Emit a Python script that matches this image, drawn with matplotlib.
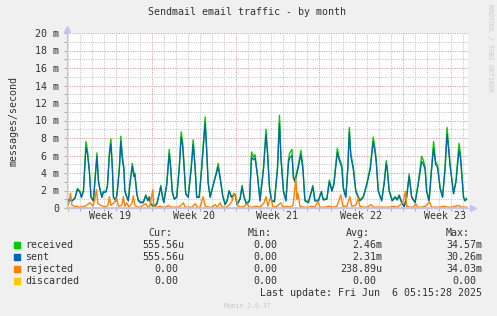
import matplotlib
matplotlib.use('Agg')
import matplotlib.pyplot as plt
from matplotlib.patches import Rectangle
from matplotlib.ticker import FixedLocator, MultipleLocator, FuncFormatter

# hours since the start of the graph, values in milli-messages/second
hours = [0, 4, 10, 16, 21, 26, 29, 33, 36, 38,
         41, 45, 48, 53, 58, 60, 63, 66, 70, 73,
         78, 81, 85, 88, 91, 93, 98, 101, 105, 108,
         111, 114, 116, 120, 123, 126, 131, 134, 136, 140,
         143, 148, 153, 158, 162, 165, 168, 173, 180, 185,
         188, 191, 194, 200, 205, 208, 211, 215, 220, 225,
         229, 232, 235, 238, 243, 249, 253, 257, 260, 265,
         270, 277, 280, 283, 287, 293, 299, 303, 308, 312,
         317, 321, 325, 330, 333, 337, 341, 347, 351, 355,
         360, 366, 370, 374, 377, 382, 387, 394, 399, 402,
         406, 410, 416, 422, 426, 429, 434, 439, 444, 446,
         451, 454, 457, 463, 469, 473, 477, 484, 493, 497,
         504, 510, 514, 521, 526, 531, 535, 542, 546, 551,
         554, 559, 563, 566, 569, 574, 579, 587, 594, 601,
         608, 614, 618, 620, 624, 631, 636, 640, 642, 646,
         652, 658, 662, 666, 671, 676, 681, 686, 691, 698,
         704, 711, 714, 718, 721, 726, 731, 735, 739, 743,
         748, 753, 758, 762, 766, 768, 775, 780, 786, 789,
         793, 795, 798, 801]

received = [0.7, 1.0, 0.8, 1.2, 2.25, 1.9, 1.3, 2.0, 5.3, 7.6,
            6.6, 4.3, 1.3, 0.9, 4.7, 6.3, 3.2, 2.25, 1.3, 1.9,
            1.9, 2.6, 6.4, 7.9, 4.7, 1.3, 0.9, 2.0, 4.7, 8.2,
            5.9, 4.7, 2.0, 1.3, 0.9, 2.8, 5.1, 3.8, 4.0, 1.7,
            0.9, 0.7, 0.7, 1.5, 0.9, 1.3, 0.5, 0.2, 0.5, 1.7,
            2.6, 1.5, 0.7, 2.8, 6.7, 4.7, 1.9, 1.1, 1.3, 4.7,
            8.7, 7.4, 4.7, 1.7, 1.3, 4.7, 7.8, 4.7, 1.3, 1.3,
            4.7, 10.4, 6.9, 3.0, 1.3, 2.7, 4.0, 5.1, 3.2, 1.5,
            0.4, 0.9, 2.0, 1.3, 1.5, 1.6, 0.4, 1.1, 2.6, 1.3,
            0.5, 0.9, 6.4, 5.8, 6.1, 3.8, 0.9, 4.7, 9.0, 6.6,
            2.4, 0.9, 0.8, 4.7, 10.6, 5.9, 2.0, 0.9, 5.5, 6.2,
            6.7, 3.6, 3.2, 4.7, 6.6, 4.7, 0.9, 0.7, 2.6, 0.9,
            0.9, 1.9, 1.0, 1.1, 3.2, 2.0, 2.8, 6.8, 5.7, 4.9,
            2.4, 1.3, 4.7, 9.2, 6.25, 4.7, 2.0, 0.9, 1.3, 2.8,
            4.7, 8.1, 6.6, 5.5, 2.0, 0.9, 3.0, 5.4, 4.7, 2.0,
            0.9, 1.3, 1.0, 1.5, 0.7, 0.15, 1.3, 3.9, 1.3, 0.7,
            2.8, 5.9, 5.5, 4.7, 2.0, 0.9, 4.7, 7.6, 5.3, 4.9,
            2.4, 1.3, 4.7, 9.2, 6.6, 5.1, 1.7, 3.2, 7.4, 6.1,
            2.8, 1.3, 0.9, 1.1]

sent = [0.6, 0.9, 0.8, 1.1, 2.1, 1.8, 1.2, 1.9, 4.9, 6.9,
        6.2, 4.0, 1.2, 0.8, 4.4, 5.9, 3.0, 2.1, 1.2, 1.8,
        1.8, 2.4, 6.0, 7.3, 4.4, 1.2, 0.8, 1.9, 4.4, 7.6,
        5.5, 4.4, 1.9, 1.2, 0.8, 2.6, 4.8, 3.6, 3.8, 1.6,
        0.8, 0.6, 0.6, 1.4, 0.8, 1.2, 0.4, 0.2, 0.4, 1.6,
        2.4, 1.4, 0.6, 2.6, 6.2, 4.4, 1.8, 1.0, 1.2, 4.4,
        8.1, 7.0, 4.4, 1.6, 1.2, 4.4, 7.3, 4.4, 1.2, 1.2,
        4.4, 9.7, 6.5, 2.8, 1.2, 2.5, 3.8, 4.7, 3.0, 1.4,
        0.4, 0.8, 1.9, 1.2, 1.4, 1.5, 0.4, 1.0, 2.4, 1.2,
        0.4, 0.8, 5.8, 5.5, 5.7, 3.6, 0.8, 4.4, 8.4, 6.2,
        2.2, 0.8, 0.7, 4.4, 9.7, 5.5, 1.9, 0.8, 5.1, 5.7,
        6.0, 3.4, 3.0, 4.4, 6.1, 4.4, 0.8, 0.6, 2.4, 0.8,
        0.8, 1.8, 0.9, 1.0, 3.0, 1.9, 2.6, 6.3, 5.4, 4.6,
        2.2, 1.2, 4.4, 8.7, 5.9, 4.4, 1.9, 0.8, 1.2, 2.6,
        4.4, 7.6, 6.2, 5.2, 1.9, 0.8, 2.8, 5.0, 4.4, 1.9,
        0.8, 1.2, 0.9, 1.4, 0.6, 0.15, 1.2, 3.6, 1.2, 0.6,
        2.6, 5.3, 5.1, 4.4, 1.9, 0.8, 4.4, 6.8, 5.0, 4.6,
        2.2, 1.2, 4.4, 8.4, 6.1, 4.8, 1.6, 3.0, 6.6, 5.6,
        2.6, 1.2, 0.8, 1.0]

rej_hours = [0, 4, 7, 10, 16, 26, 36, 46, 52, 56,
             59, 62, 68, 76, 82, 85, 88, 94, 100, 103,
             110, 113, 116, 120, 124, 130, 133, 136, 142, 148,
             152, 158, 162, 166, 172, 174, 180, 186, 192, 198,
             203, 208, 217, 223, 227, 233, 237, 243, 251, 257,
             261, 267, 273, 277, 283, 291, 297, 301, 307, 311,
             319, 325, 331, 335, 339, 343, 349, 355, 361, 365,
             371, 379, 387, 395, 399, 403, 407, 410, 413, 421,
             429, 433, 441, 447, 453, 459, 461, 463, 467, 475,
             483, 491, 497, 503, 507, 517, 525, 533, 541, 549,
             553, 561, 567, 571, 579, 584, 587, 595, 603, 609,
             615, 623, 631, 639, 647, 655, 661, 667, 673, 679,
             681, 687, 695, 699, 703, 711, 719, 727, 731, 739,
             747, 755, 763, 771, 779, 785, 791, 801]

rejected = [0.3, 0.5, 1.7, 0.3, 0.2, 0.1, 0.2, 0.6, 0.2, 1.0,
            2.1, 0.5, 0.3, 0.1, 0.3, 1.3, 0.3, 0.6, 1.1, 0.2,
            0.3, 1.3, 0.2, 0.6, 0.1, 0.5, 1.4, 0.3, 0.1, 0.1,
            0.3, 0.5, 0.1, 0.2, 2.1, 0.2, 0.1, 0.2, 0.1, 0.1,
            0.3, 0.1, 0.1, 0.1, 0.2, 0.6, 0.1, 0.1, 0.1, 0.5,
            0.1, 0.1, 1.3, 0.2, 0.1, 0.1, 0.4, 0.1, 0.6, 0.1,
            0.1, 0.3, 0.8, 1.7, 1.1, 0.2, 0.1, 0.2, 0.5, 0.1,
            0.1, 0.2, 0.1, 0.6, 1.3, 0.2, 1.1, 0.9, 0.1, 0.2,
            0.6, 0.1, 0.2, 0.1, 0.3, 3.4, 1.0, 1.7, 0.2, 0.1,
            0.1, 0.2, 0.1, 0.7, 0.1, 0.1, 0.2, 0.1, 0.2, 1.5,
            0.2, 0.2, 1.3, 0.2, 0.3, 1.1, 0.2, 0.1, 0.1, 0.4,
            0.1, 0.1, 0.1, 0.1, 0.1, 0.2, 0.1, 0.3, 0.6, 1.9,
            0.2, 0.1, 0.1, 0.5, 0.1, 0.1, 0.2, 0.7, 0.1, 0.1,
            0.1, 0.2, 0.1, 0.1, 0.2, 0.3, 0.1, 0.1]

disc_hours = [0, 801]
discarded = [0.0, 0.0]

week_starts = [170, 338, 506, 674]
week_names = ['Week 19', 'Week 20', 'Week 21', 'Week 22', 'Week 23']

names = ['received', 'sent', 'rejected', 'discarded']
colors = ['#00CC00', '#0066B3', '#FF8000', '#FFCC00']
cur = ['555.56u', '555.56u', '0.00', '0.00']
mins = ['0.00', '0.00', '0.00', '0.00']
avg = ['2.46m', '2.31m', '238.89u', '0.00']
maxs = ['34.57m', '30.26m', '34.03m', '0.00']

plt.rcParams['font.family'] = 'DejaVu Sans Mono'
W, H = 497, 316
FS = 7.2
TXT = '#333333'

fig = plt.figure(figsize=(W / 100, H / 100), dpi=100, facecolor='#F0F0F0')
ax = fig.add_axes([67 / W, 1 - 208 / H, 401 / W, 175 / H])
ax.set_facecolor('white')

ax.plot(hours, received, color=colors[0], lw=1.0)
ax.plot(hours, sent, color=colors[1], lw=0.9)
ax.plot(rej_hours, rejected, color=colors[2], lw=1.0)
ax.plot(disc_hours, discarded, color=colors[3], lw=1.2, clip_on=False)

ax.set_xlim(0, 804)
ax.set_ylim(0, 20)

ax.xaxis.set_major_locator(FixedLocator(week_starts))
ax.xaxis.set_minor_locator(FixedLocator(list(range(2, 804, 24))))
ax.yaxis.set_major_locator(MultipleLocator(2))
ax.yaxis.set_minor_locator(MultipleLocator(1))
ax.yaxis.set_major_formatter(FuncFormatter(lambda v, p: '0' if v == 0 else '%d m' % v))

ax.grid(which='minor', color='#C8C8C8', linestyle=(0, (1.2, 1.2)), lw=0.7)
ax.grid(which='major', color='#E4A0A0', linestyle=(0, (1.2, 1.2)), lw=0.7)
ax.set_axisbelow(True)

ax.tick_params(which='both', direction='out', length=2, width=0.6, color='#A0A0A0',
               labelsize=FS, labelcolor=TXT, pad=3.5)
ax.tick_params(axis='x', labelbottom=False)

for s in ['top', 'right']:
    ax.spines[s].set_visible(False)
for s in ['left', 'bottom']:
    ax.spines[s].set_color('#C4C4F4')
    ax.spines[s].set_linewidth(0.9)

# axis arrows
ax.plot(0, 1.025, marker='^', ms=4, color='#C4C4F4', transform=ax.transAxes, clip_on=False)
ax.plot(1.012, 0, marker='>', ms=4, color='#C4C4F4', transform=ax.transAxes, clip_on=False)

mids = [s - 84 for s in week_starts] + [week_starts[-1] + 84]
for m, name in zip(mids, week_names):
    ax.text(m, -8 / 175, name, transform=ax.get_xaxis_transform(), ha='center', va='center',
            fontsize=FS, color=TXT)

ax.set_ylabel('messages/second', fontsize=FS, color=TXT, labelpad=12)

fig.text(247.5 / W, 1 - 12 / H, 'Sendmail email traffic - by month', ha='center', va='center',
         fontsize=FS, color=TXT)
fig.text(490 / W, 1 - 48 / H, 'RRDTOOL / TOBI OETIKER', rotation=270, ha='center', va='center',
         fontsize=4.8, color='#C8C8C8')

# legend block
def ftext(x, y, s, **kw):
    fig.text(x / W, 1 - y / H, s, va='center', fontsize=FS, color=TXT, **kw)

col_right = [184.3, 283.7, 382.3, 482.3]
for hdr, r in zip(['Cur:', 'Min:', 'Avg:', 'Max:'], col_right):
    ftext(r - 12.3, 233.3, hdr, ha='right')

rows_y = [245, 257, 269, 281]
for i, y in enumerate(rows_y):
    fig.patches.append(Rectangle((14 / W, 1 - (y + 3) / H), 6 / W, 6 / H,
                                 transform=fig.transFigure, color=colors[i]))
    ftext(25, y, names[i], ha='left')
    for val, r in zip([cur[i], mins[i], avg[i], maxs[i]], col_right):
        shift = 0 if val[-1].isalpha() else 6.3
        ftext(r - shift, y, val, ha='right')

ftext(482.3, 293.3, 'Last update: Fri Jun  6 05:15:28 2025', ha='right')
fig.text(247.3 / W, 1 - 305.7 / H, 'Munin 2.0.37', ha='center', va='center',
         fontsize=4.7, color='#C8C8C8')

fig.savefig('out.png', dpi=100, facecolor=fig.get_facecolor())
